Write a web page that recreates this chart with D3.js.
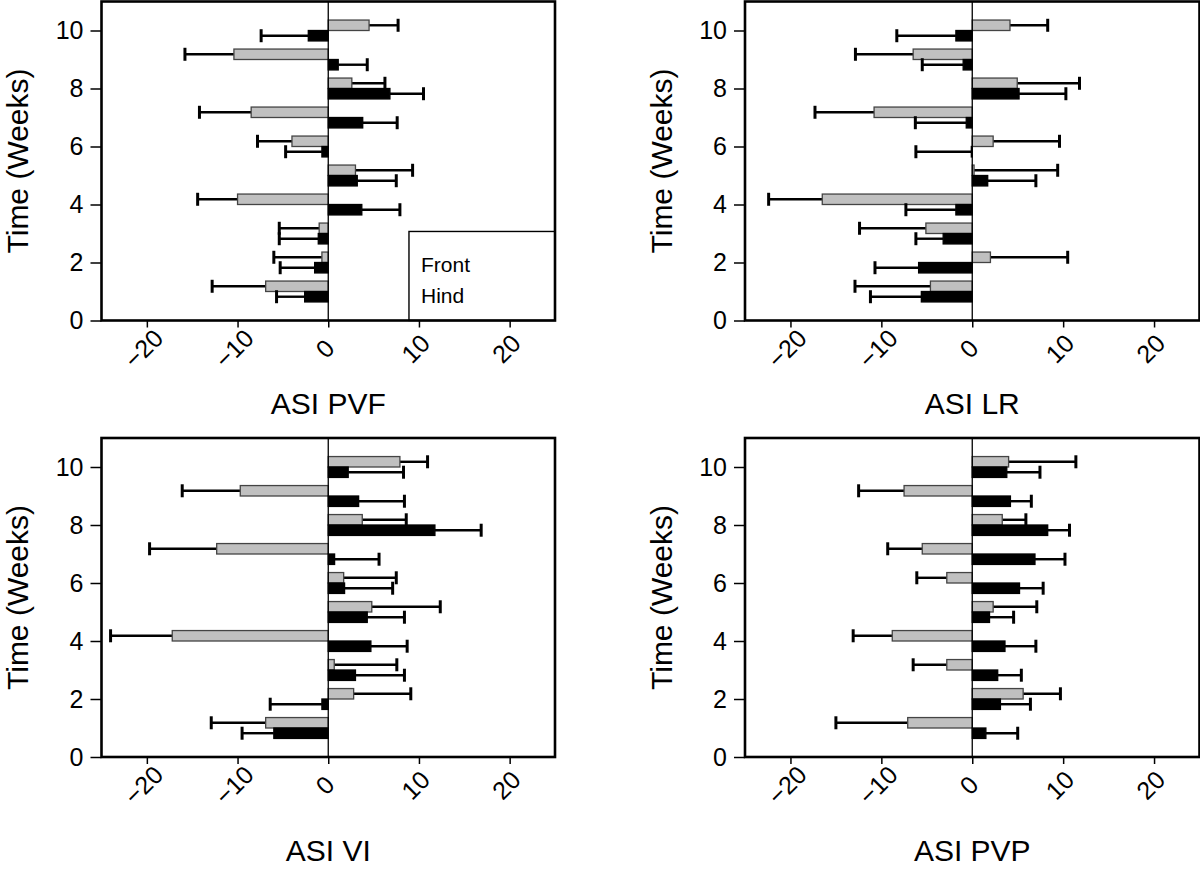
<!DOCTYPE html>
<html><head><meta charset="utf-8">
<script src="https://cdn.jsdelivr.net/npm/d3@7"></script>
<style>
body{margin:0;background:#fff;}
svg{display:block;}
text{font-family:"Liberation Sans",Arial,sans-serif;fill:#000;}
</style></head>
<body><svg id="c" width="1200" height="870"></svg>
<script>
const weeks = [1,2,3,4,5,6,7,8,9,10];
const xTicks = [-20,-10,0,10,20];
const yTicks = [0,2,4,6,8,10];
const legendLabels = ["Front","Hind"];
const yTitle = "Time (Weeks)";

const pvfFront = [-6.9,-0.7,-1.0,-10.0,3.0,-4.0,-8.5,2.6,-10.4,4.5];
const pvfFrontSd = [5.9,5.3,4.4,4.4,6.3,3.8,5.7,3.65,5.4,3.2];
const pvfHind = [-2.6,-1.5,-1.1,3.7,3.2,-0.7,3.8,6.8,1.1,-2.2];
const pvfHindSd = [3.1,3.8,4.3,4.2,4.3,4.0,3.8,3.7,3.2,5.2];

const lrFront = [-4.6,2.0,-5.1,-16.5,0.2,2.3,-10.8,4.95,-6.5,4.15];
const lrFrontSd = [8.3,8.5,7.3,5.9,9.2,7.3,6.5,6.85,6.35,4.15];
const lrHind = [-5.6,-5.9,-3.2,-1.8,1.7,-0.1,-0.66,5.15,-1.0,-1.8];
const lrHindSd = [5.6,4.8,3.0,5.5,5.3,6.1,5.6,5.15,4.5,6.5];

const viFront = [-6.9,2.8,0.66,-17.2,4.8,1.7,-12.3,3.75,-9.7,7.9];
const viFrontSd = [6.0,6.3,6.9,6.8,7.55,5.8,7.4,4.85,6.4,3.05];
const viHind = [-6.0,-0.7,3.0,4.7,4.3,1.8,0.7,11.76,3.35,2.2];
const viHindSd = [3.5,5.7,5.4,4.0,4.1,5.3,4.9,5.1,5.05,6.1];

const pvpFront = [-7.1,5.6,-2.8,-8.8,2.3,-2.8,-5.5,3.3,-7.5,4.0];
const pvpFrontSd = [7.9,4.1,3.7,4.3,4.8,3.3,3.8,2.6,5.0,7.4];
const pvpHind = [1.5,3.1,2.8,3.6,1.9,5.2,6.9,8.3,4.2,3.8];
const pvpHindSd = [3.5,3.3,2.6,3.4,2.65,2.6,3.3,2.4,2.3,3.65];

const panels = [
  {title:"ASI PVF", front:pvfFront, frontSd:pvfFrontSd, hind:pvfHind, hindSd:pvfHindSd, x0:101.5, x1:555, y0:1.5, y1:320.5, titleDy:93, legend:true},
  {title:"ASI LR", front:lrFront, frontSd:lrFrontSd, hind:lrHind, hindSd:lrHindSd, x0:745, x1:1199.5, y0:1.5, y1:320.5, titleDy:93},
  {title:"ASI VI", front:viFront, frontSd:viFrontSd, hind:viHind, hindSd:viHindSd, x0:101.5, x1:555, y0:438, y1:757, titleDy:104},
  {title:"ASI PVP", front:pvpFront, frontSd:pvpFrontSd, hind:pvpHind, hindSd:pvpHindSd, x0:745, x1:1199.5, y0:438, y1:757, titleDy:104}
];

const svg = d3.select("#c");
const barH = 0.36;

panels.forEach(p => {
  const x = d3.scaleLinear().domain([-25,25]).range([p.x0,p.x1]);
  const y = d3.scaleLinear().domain([0,11]).range([p.y1,p.y0]);
  const g = svg.append("g");

  const series = [
    {vals:p.front, sd:p.frontSd, fill:"#c0c0c0", stroke:"#444", top:w=>w+barH, bot:w=>w},
    {vals:p.hind, sd:p.hindSd, fill:"#000", stroke:"#000", top:w=>w, bot:w=>w-barH}
  ];
  series.forEach(s => {
    const d = weeks.map((w,i)=>({w, v:s.vals[i], sd:s.sd[i]}));
    d.forEach(o => {
      const dir = o.v < 0 ? -1 : 1;
      const ym = y((s.top(o.w)+s.bot(o.w))/2);
      const xe = x(o.v + dir*o.sd);
      g.append("line").attr("x1",x(o.v)).attr("x2",xe).attr("y1",ym).attr("y2",ym)
        .attr("stroke","#000").attr("stroke-width",2.4);
      g.append("line").attr("x1",xe).attr("x2",xe).attr("y1",ym-6.5).attr("y2",ym+6.5)
        .attr("stroke","#000").attr("stroke-width",3);
    });
    g.selectAll(null).data(d).enter().append("rect")
      .attr("x",o=>Math.min(x(0),x(o.v)))
      .attr("width",o=>Math.abs(x(o.v)-x(0)))
      .attr("y",o=>y(s.top(o.w)))
      .attr("height",o=>y(s.bot(o.w))-y(s.top(o.w)))
      .attr("fill",s.fill).attr("stroke",s.stroke).attr("stroke-width",1.3);
  });

  g.append("line").attr("x1",x(0)).attr("x2",x(0)).attr("y1",p.y0).attr("y2",p.y1)
    .attr("stroke","#000").attr("stroke-width",1.3);

  if (p.legend) {
    const lx = x(8.9);
    g.append("rect").attr("x",lx).attr("y",y(3.07)).attr("width",p.x1-lx).attr("height",p.y1-y(3.07))
      .attr("fill","#fff").attr("stroke","#000").attr("stroke-width",1.4);
    legendLabels.forEach((t,i)=>{
      g.append("text").attr("x",lx+12).attr("y",272+i*31).attr("font-size",21).text(t);
    });
  }

  g.append("rect").attr("x",p.x0).attr("y",p.y0).attr("width",p.x1-p.x0).attr("height",p.y1-p.y0)
    .attr("fill","none").attr("stroke","#000").attr("stroke-width",2.6);

  const ya = g.append("g").attr("transform",`translate(${p.x0},0)`)
    .call(d3.axisLeft(y).tickValues(yTicks).tickSize(11).tickPadding(7).tickFormat(d3.format("d")));
  ya.select(".domain").remove();
  ya.selectAll("line").attr("stroke","#000").attr("stroke-width",1.5);
  ya.selectAll("text").attr("font-size",25).attr("font-family",null);

  const xa = g.append("g").attr("transform",`translate(0,${p.y1})`)
    .call(d3.axisBottom(x).tickValues(xTicks).tickSize(7).tickFormat(d3.format("d")));
  xa.select(".domain").remove();
  xa.selectAll("line").attr("stroke","#000").attr("stroke-width",1.5);
  xa.selectAll("text").attr("font-size",25).attr("font-family",null)
    .attr("text-anchor","middle").attr("dominant-baseline","central")
    .attr("y",0).attr("dy",0)
    .attr("transform",()=>`translate(-4,28) rotate(-45)`);

  const cx = p.x0 - 84, cy = (p.y0+p.y1)/2;
  g.append("text").attr("transform",`translate(${cx},${cy}) rotate(-90)`)
    .attr("text-anchor","middle").attr("dominant-baseline","central")
    .attr("font-size",30).text(yTitle);

  g.append("text").attr("x",x(0)).attr("y",p.y1+p.titleDy).attr("text-anchor","middle")
    .attr("font-size",30).text(p.title);
});
</script></body></html>
